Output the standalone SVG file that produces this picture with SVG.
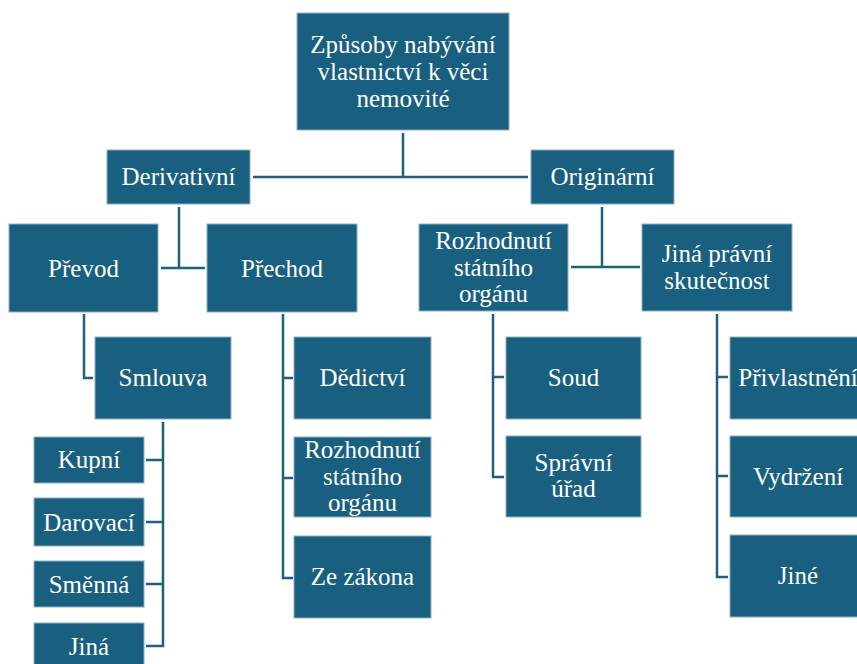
<svg xmlns="http://www.w3.org/2000/svg" width="857" height="664" viewBox="0 0 857 664">
<style>
.box{fill:#185f80;stroke:#8fb0c2;stroke-width:1}
.t{font-family:'Liberation Serif','Tinos','DejaVu Serif',serif;font-size:25px;fill:#ffffff;text-anchor:middle}
.c{fill:none;stroke:#1f5f80;stroke-width:2.5}
</style>
<rect width="857" height="664" fill="#ffffff"/>
<g id="connectors">
<path class="c" d="M403,133 V177 M253,177 H528"/>
<path class="c" d="M179,207 V268 M161,268 H205"/>
<path class="c" d="M602,207 V267 M571,267 H640"/>
<path class="c" d="M84,314 V378 H93"/>
<path class="c" d="M283,314 V578 H293 M283,378 H293 M283,478 H293"/>
<path class="c" d="M163,422 V646 H146 M146,460 H163 M146,522 H163 M146,584 H163"/>
<path class="c" d="M493,314 V477 H504 M493,377 H504"/>
<path class="c" d="M717,314 V577 H728 M717,377 H728 M717,476 H728"/>
</g>
<g font-family="Liberation Serif">
<g id="root"><rect class="box" x="297" y="13" width="212" height="117"/>
<text class="t" x="403" y="53">Způsoby nabývání</text>
<text class="t" x="403" y="80">vlastnictví k věci</text>
<text class="t" x="403" y="107">nemovité</text></g>
<g id="derivativni"><rect class="box" x="107" y="150" width="143" height="54"/><text class="t" x="178.5" y="185">Derivativní</text></g>
<g id="originarni"><rect class="box" x="531" y="150" width="143" height="54"/><text class="t" x="602.5" y="185">Originární</text></g>
<g id="prevod"><rect class="box" x="9" y="224" width="149" height="88"/><text class="t" x="83.5" y="277">Převod</text></g>
<g id="prechod"><rect class="box" x="207" y="224" width="150" height="88"/><text class="t" x="282" y="277">Přechod</text></g>
<g id="rozhodnuti1"><rect class="box" x="419" y="224" width="149" height="87"/>
<text class="t" x="493.5" y="249">Rozhodnutí</text>
<text class="t" x="493.5" y="276">státního</text>
<text class="t" x="493.5" y="302">orgánu</text></g>
<g id="jina-pravni"><rect class="box" x="642" y="224" width="150" height="87"/>
<text class="t" x="717" y="262">Jiná právní</text>
<text class="t" x="717" y="289">skutečnost</text></g>
<g id="smlouva"><rect class="box" x="95" y="337" width="136" height="82"/><text class="t" x="163" y="386">Smlouva</text></g>
<g id="kupni"><rect class="box" x="34" y="437" width="110" height="46"/><text class="t" x="89" y="468">Kupní</text></g>
<g id="darovaci"><rect class="box" x="34" y="498" width="110" height="48"/><text class="t" x="89" y="531">Darovací</text></g>
<g id="smenna"><rect class="box" x="34" y="561" width="110" height="46"/><text class="t" x="89" y="593">Směnná</text></g>
<g id="jina"><rect class="box" x="34" y="623" width="110" height="46"/><text class="t" x="89" y="655">Jiná</text></g>
<g id="dedictvi"><rect class="box" x="294" y="337" width="137" height="82"/><text class="t" x="362.5" y="386">Dědictví</text></g>
<g id="rozhodnuti2"><rect class="box" x="294" y="437" width="137" height="80"/>
<text class="t" x="362.5" y="458">Rozhodnutí</text>
<text class="t" x="362.5" y="485">státního</text>
<text class="t" x="362.5" y="511">orgánu</text></g>
<g id="ze-zakona"><rect class="box" x="294" y="536" width="137" height="82"/><text class="t" x="362.5" y="585">Ze zákona</text></g>
<g id="soud"><rect class="box" x="506" y="337" width="135" height="82"/><text class="t" x="573.5" y="386">Soud</text></g>
<g id="spravni-urad"><rect class="box" x="506" y="436" width="135" height="81"/>
<text class="t" x="573.5" y="471">Správní</text>
<text class="t" x="573.5" y="497">úřad</text></g>
<g id="privlastneni"><rect class="box" x="730" y="337" width="137" height="82"/><text class="t" x="798" y="386">Přivlastnění</text></g>
<g id="vydrzeni"><rect class="box" x="730" y="436" width="137" height="81"/><text class="t" x="798" y="485">Vydržení</text></g>
<g id="jine"><rect class="box" x="730" y="535" width="137" height="82"/><text class="t" x="798" y="584">Jiné</text></g>
</g>
</svg>
